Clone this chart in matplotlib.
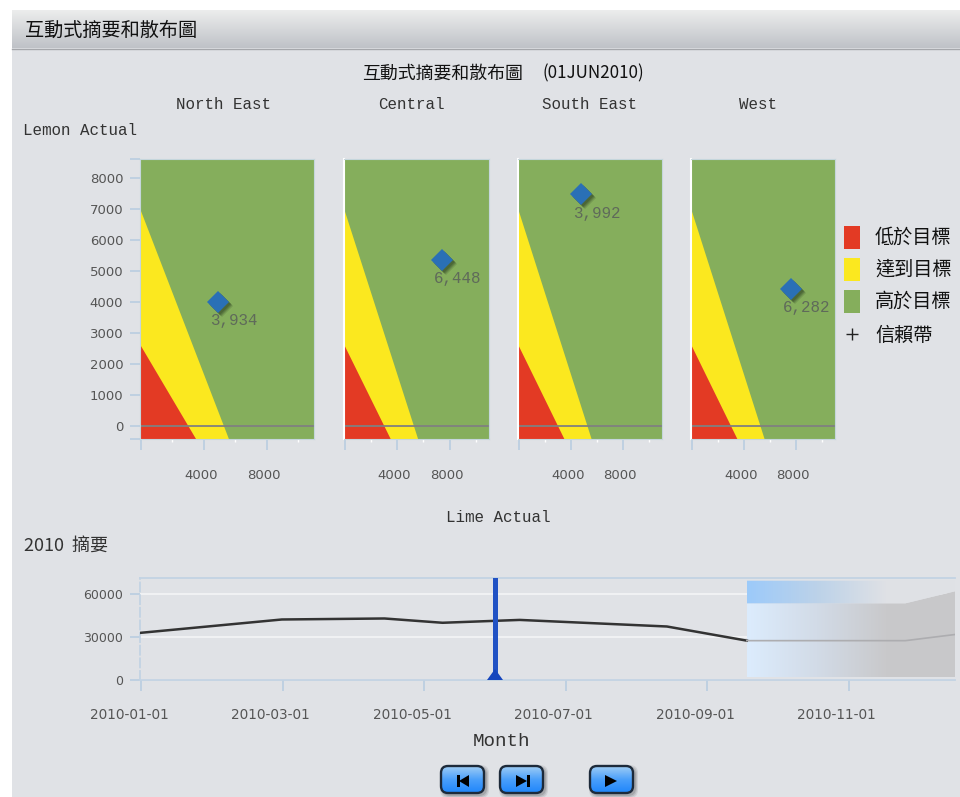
import matplotlib
matplotlib.use("Agg")
import numpy as np
from matplotlib import pyplot as plt
from matplotlib.colors import LinearSegmentedColormap
from matplotlib.patches import FancyBboxPatch, Polygon, Rectangle
from matplotlib.transforms import ScaledTranslation, offset_copy

# scatter panels
regions = ["North East", "Central", "South East", "West"]
lime_actual = [4890, 7385, 4770, 7615]
lemon_actual = [4000, 5355, 7480, 4420]
point_labels = ["3,934", "6,448", "3,992", "6,282"]
y_ticks = [0, 1000, 2000, 3000, 4000, 5000, 6000, 7000, 8000]
x_ticks = [0, 4000, 8000]
x_tick_labels = ["", "4000", "8000"]
red_x = [0, 3500, 0]
red_y = [-420, -420, 2580]
yellow_x = [0, 5590, 0]
yellow_y = [-420, -420, 6935]

# summary line, x is months since january
line_month = [0, 1.99, 3.44, 4.26, 5.35, 7.43, 8.56]
line_value = [33000, 42300, 43000, 40000, 42000, 37400, 27500]
forecast_month = [8.56, 10.8, 11.5]
forecast_value = [27500, 27500, 31800]
forecast_upper = [53600, 53600, 62000]
forecast_lower = [2100, 2100, 2100]
forecast_top = [69400, 69400, 69400]
current_month = 5
month_ticks = [0, 2, 4, 6, 8, 10]
month_labels = ["2010-01-01", "2010-03-01", "2010-05-01", "2010-07-01", "2010-09-01", "2010-11-01"]
summary_ticks = [0, 30000, 60000]

legend_labels = ["低於目標", "達到目標", "高於目標"]
RED, YELLOW, GREEN = "#e33a24", "#fbe81f", "#85ae5c"
PANEL = "#e0e2e6"
TICK = "#b9cde0"
CJK = ["Noto Sans CJK TC", "DejaVu Sans"]
MONO = "Liberation Mono"

W, H = 960, 797
fig = plt.figure(figsize=(W / 100, H / 100), dpi=100, facecolor="white")


def px_axes(x0, y0, x1, y1, **kw):
    return fig.add_axes([x0 / W, 1 - y1 / H, (x1 - x0) / W, (y1 - y0) / H], **kw)


def gradient(ax, colors, extent, clip):
    cmap = LinearSegmentedColormap.from_list("g", colors)
    im = ax.imshow(np.linspace(0, 1, 256).reshape(1, -1), cmap=cmap, extent=extent,
                   aspect="auto", zorder=2)
    im.set_clip_path(clip)


def shift_labels(labels, dx):
    # tick labels sit a few pixels left of their ticks in the original
    for label in labels:
        label.set_transform(label.get_transform() + ScaledTranslation(dx / 100, 0, fig.dpi_scale_trans))


# page in pixel coordinates
bg = px_axes(0, 0, W, H, zorder=-1)
bg.axis("off")
bg.add_patch(Rectangle((12, 10), W - 12, H - 10, color=PANEL, lw=0, zorder=0))
bar = np.linspace(0, 1, 64).reshape(-1, 1)
bg.imshow(bar, cmap=LinearSegmentedColormap.from_list("bar", ["#eceded", "#bfc2c7"]),
          extent=(12, W, 48, 10), aspect="auto", zorder=1)
bg.plot([12, W], [48.5, 48.5], color="#a5a7ab", lw=1, zorder=1)

bg.text(25, 30, "互動式摘要和散布圖", family=CJK, fontsize=13.8, color="#111111", va="center")
bg.text(362, 74, "互動式摘要和散布圖", family=CJK, fontsize=12.9, color="#111111", va="center")
bg.text(543, 73, "(01JUN2010)", family=CJK, fontsize=12.2, color="#111111", va="center")
for name, cx in zip(regions, [224, 411, 589, 758]):
    bg.text(cx, 104, name, family=MONO, fontsize=11.4, color="#333333", ha="center", va="center")
bg.text(23, 130, "Lemon Actual", family=MONO, fontsize=11.4, color="#333333", va="center")
bg.text(498, 518, "Lime Actual", family=MONO, fontsize=11.4, color="#333333", ha="center", va="center")
bg.text(24, 546, "2010  摘要", family=CJK, fontsize=13, color="#333333", va="center")
bg.text(501, 741, "Month", family=MONO, fontsize=13.8, color="#333333", ha="center", va="center")

# scatter panels
for i, (x0, x1) in enumerate([(140, 314), (344, 489), (518, 662), (691, 835)]):
    ax = px_axes(x0, 159, x1, 439)
    ax.set_facecolor(GREEN)
    ax.fill(yellow_x, yellow_y, color=YELLOW, lw=0)
    ax.fill(red_x, red_y, color=RED, lw=0)
    ax.axhline(0, color="#808080", lw=1.3)
    for off, alpha in [(3.0, 0.18), (2.2, 0.3), (1.4, 0.35)]:
        shadow_tr = offset_copy(ax.transData, fig=fig, x=off, y=-off, units="points")
        ax.plot(lime_actual[i], lemon_actual[i], "D", ms=11, color="#2c3f22", mew=0, alpha=alpha,
                transform=shadow_tr, zorder=4)
    ax.plot(lime_actual[i], lemon_actual[i], "D", ms=11, color="#2a70b6", mew=0, zorder=5)
    ax.annotate(point_labels[i], (lime_actual[i], lemon_actual[i]), xytext=(16 * 0.72, -19 * 0.72),
                textcoords="offset points", family=MONO, fontsize=11.4, color="#5f6a5a",
                ha="center", va="center", annotation_clip=False, zorder=6)
    ax.set_xlim(-60, 11000)
    ax.set_ylim(-420, 8610)
    ax.set_xticks(x_ticks, x_tick_labels, family="DejaVu Sans", fontsize=9.5, color="#555555")
    ax.set_xticks([2000, 6000, 10000], minor=True)
    ax.tick_params(axis="x", which="major", length=8, width=1.2, color=TICK, pad=13.5)
    ax.tick_params(axis="x", which="minor", length=2, width=1, color="white")
    shift_labels(ax.get_xticklabels(), -3)
    for side in ["top", "right", "bottom", "left"]:
        ax.spines[side].set_color("#c5d6dc")
    if i == 0:
        ax.set_yticks(y_ticks, [str(v) for v in y_ticks], family="DejaVu Sans", fontsize=9.5, color="#555555")
        ax.set_yticks([-420, 8610], minor=True)
        ax.tick_params(axis="y", which="both", length=7, width=1.2, color=TICK, pad=5)
    else:
        ax.set_yticks([])
        ax.spines["left"].set_color("white")
        ax.spines["left"].set_linewidth(1.5)

# legend
for y, color, label in zip([226, 258, 290], [RED, YELLOW, GREEN], legend_labels):
    bg.add_patch(Rectangle((844, y), 16, 23, color=color, lw=0, zorder=2))
    bg.text(875, y + 11, label, family=CJK, fontsize=13.8, color="#111111", va="center")
bg.plot(852, 334, "+", ms=8, mew=1, color="#222222")
bg.text(875, 335, "信賴帶", family=CJK, fontsize=13.8, color="#111111", va="center")

# summary line
ax = px_axes(140, 578, 955, 680)
ax.patch.set_alpha(0)
ax.yaxis.grid(True, color="#f0f1f3", lw=1.5)
ax.set_axisbelow(True)
poly_x = forecast_month + forecast_month[::-1]
lower = Polygon(list(zip(poly_x, forecast_upper + forecast_lower[::-1])), transform=ax.transData, fc="none", lw=0)
upper = Polygon(list(zip(poly_x, forecast_top + forecast_upper[::-1])), transform=ax.transData, fc="none", lw=0)
ax.add_patch(lower)
ax.add_patch(upper)
band = (forecast_month[0], forecast_month[-1], 0, 71300)
gradient(ax, ["#dcecfd", "#d2dbe7", "#c9c9cb", "#c8c8ca"], band, lower)
gradient(ax, ["#9ccafa", "#bcd2e9", "#dfe1e5", PANEL], band, upper)
ax.plot(line_month, line_value, color="#333333", lw=1.8, zorder=4)
ax.plot(forecast_month, forecast_value, color="#adadb0", lw=1.2, zorder=4)
ax.axvline(current_month, color="#2152c4", lw=3.6, zorder=5)
ax.plot(current_month, 0, marker=10, ms=11, color="#1646bd", mew=0, clip_on=False, zorder=6)
ax.set_xlim(-0.014, 11.5)
ax.set_ylim(0, 71300)
ax.set_xticks(month_ticks, month_labels, family="DejaVu Sans", fontsize=9.8, color="#555555")
ax.set_yticks(summary_ticks, [str(v) for v in summary_ticks], family="DejaVu Sans", fontsize=9, color="#555555")
ax.tick_params(axis="x", length=8, width=1.2, color=TICK, pad=12)
ax.tick_params(axis="y", length=7, width=1.2, color=TICK, pad=5)
shift_labels(ax.get_xticklabels(), -12)
ax.spines["right"].set_visible(False)
ax.spines["top"].set_color("#c3d3e3")
ax.spines["bottom"].set_color("#c3d3e3")
ax.spines["left"].set_color("#c3d3e3")
ax.spines["left"].set_linestyle((0, (5, 2)))
for side in ["top", "bottom", "left"]:
    ax.spines[side].set_linewidth(1.3)

# player buttons
button_cmap = LinearSegmentedColormap.from_list("btn", ["#9fcdf5", "#4a9ffa", "#1f86fb"])
glyphs = [
    [[469, 775], [469, 787], [459, 781]],
    [[516, 775], [516, 787], [527, 781]],
    [[605, 775], [605, 787], [617, 781]],
]
bars = [(457, 2.5), (527, 2.5), None]
for x0, glyph, stop in zip([441, 500, 590], glyphs, bars):
    for grow, alpha in [(3, 0.15), (2, 0.2), (1, 0.3)]:
        bg.add_patch(FancyBboxPatch((x0 + 2 - grow, 768 - grow), 43 + 2 * grow, 27 + 2 * grow,
                                    boxstyle="round,pad=0,rounding_size=8", fc="#6f7175", ec="none",
                                    alpha=alpha, zorder=2))
    btn = FancyBboxPatch((x0, 766), 43, 27, boxstyle="round,pad=0,rounding_size=7",
                         fc="none", ec="#1d2a3a", lw=1.7, zorder=4)
    bg.add_patch(btn)
    im = bg.imshow(bar, cmap=button_cmap, extent=(x0, x0 + 43, 793, 766), aspect="auto", zorder=3)
    im.set_clip_path(btn)
    bg.add_patch(Polygon(glyph, fc="black", ec="none", zorder=5))
    if stop:
        bg.add_patch(Rectangle((stop[0], 775), stop[1], 12, fc="black", ec="none", zorder=5))
bg.set_xlim(0, W)
bg.set_ylim(H, 0)

fig.savefig("out.png", dpi=100)
